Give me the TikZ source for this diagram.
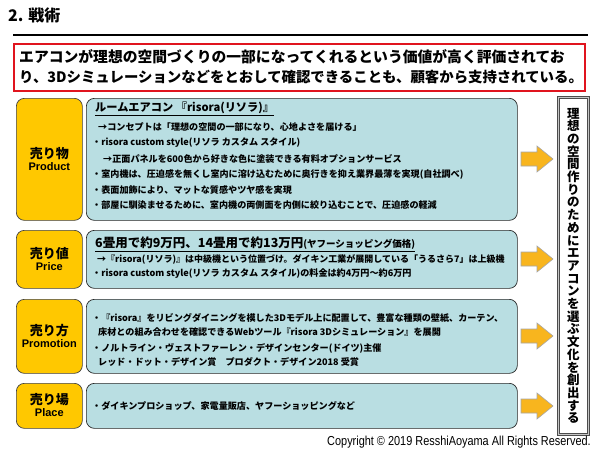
\documentclass[tikz,border=0pt]{standalone}
\usepackage{fontspec}
\usepackage{graphicx}
\setmainfont{Noto Sans CJK JP}
\newfontfamily\latfont{Liberation Sans}
\definecolor{orangefill}{HTML}{FFC800}
\definecolor{bluefill}{HTML}{B9DEE2}
\definecolor{arrowfill}{HTML}{F8B51E}
\definecolor{redline}{HTML}{E0141E}
\tikzset{
  obox/.style={draw=black!75, fill=orangefill, rounded corners=8pt, line width=0.7pt, anchor=north west, inner sep=0pt},
  bbox/.style={draw=black!85, fill=bluefill, rounded corners=8pt, line width=0.7pt, anchor=north west, inner sep=0pt},
  btxt/.style={anchor=west, inner sep=0pt, font=\fontsize{9.1}{10}\selectfont\bfseries},
  btitle/.style={anchor=west, inner sep=0pt, font=\fontsize{11.2}{12}\selectfont\bfseries},
  ojp/.style={inner sep=0pt, font=\fontsize{13}{14}\selectfont\bfseries},
  oen/.style={inner sep=0pt, font=\latfont\fontsize{11}{12}\selectfont\bfseries},
  blockarrow/.pic={\draw[fill=arrowfill, draw=gray!70, line width=0.6pt, line join=miter]
     (0,-7) -- (16,-7) -- (16,-13) -- (32,0) -- (16,13) -- (16,7) -- (0,7) -- cycle;},
  redtxt/.style={anchor=west, inner sep=0pt, font=\fontsize{14.8}{15}\selectfont\bfseries}
}
\begin{document}
\begin{tikzpicture}[x=1pt,y=-1pt]
\useasboundingbox (0,0) rectangle (600,450);
\fill[white] (0,0) rectangle (600,450);
% title
\node[anchor=west, inner sep=0pt, font=\fontsize{16}{17}\selectfont\bfseries] (title) at (8,15) {2. 戦術};
\coordinate (rulel) at (13,35);
\coordinate (ruler) at (588,35);
\draw[line width=2.6pt] (rulel) -- (ruler);
% red box
\node[draw=redline, line width=1.8pt, anchor=north west, minimum width=571pt, minimum height=47pt, inner sep=0pt] (redbox) at (13,43) {};
\node[redtxt] (red1) at (19,57) {エアコンが理想の空間づくりの一部になってくれるという価値が高く評価されてお};
\node[redtxt, font=\fontsize{14.4}{15}\selectfont\bfseries] (red2) at (19,77) {り、3Dシミュレーションなどをとおして確認できることも、顧客から支持されている。};
% row 1
\node[obox, minimum width=66pt, minimum height=122pt] (o1) at (16,98) {};
\node[ojp] (o1a) at ([yshift=6pt]o1.center) {売り物};
\node[oen] (o1b) at ([yshift=-7pt]o1.center) {Product};
\node[bbox, minimum width=431pt, minimum height=122pt] (b1) at (86,98) {};
\node[btitle] (t1) at (95,109) {\underline{ルームエアコン 『risora(リソラ)』}};
\node[btxt] (l11) at (98,127) {→コンセプトは「理想の空間の一部になり、心地よさを届ける」};
\node[btxt] (l12) at (92,143) {・risora custom style(リソラ カスタム スタイル)};
\node[btxt] (l13) at (103,159) {→正面パネルを600色から好きな色に塗装できる有料オプションサービス};
\node[btxt] (l14) at (92,174) {・室内機は、圧迫感を無くし室内に溶け込むために奥行きを抑え業界最薄を実現(自社調べ)};
\node[btxt] (l15) at (92,190) {・表面加飾により、マットな質感やツヤ感を実現};
\node[btxt] (l16) at (92,205) {・部屋に馴染ませるために、室内機の両側面を内側に絞り込むことで、圧迫感の軽減};
\coordinate (a1) at (521,159);
\pic at (a1) {blockarrow};
% row 2
\node[obox, minimum width=66pt, minimum height=58pt] (o2) at (16,230) {};
\node[ojp] (o2a) at ([yshift=6pt]o2.center) {売り値};
\node[oen] (o2b) at ([yshift=-7pt]o2.center) {Price};
\node[bbox, minimum width=431pt, minimum height=58pt] (b2) at (86,230) {};
\node[anchor=west, inner sep=0pt] (t2) at (95,244) {\underline{{\fontsize{12.5}{13}\selectfont\bfseries 6畳用で約9万円、14畳用で約13万円}{\fontsize{9.5}{10}\selectfont\bfseries (ヤフーショッピング価格)}}};
\node[btxt, font=\fontsize{9}{10}\selectfont\bfseries] (l21) at (97,259) {→『risora(リソラ)』は中級機という位置づけ。ダイキン工業が展開している「うるさら7」は上級機};
\node[btxt] (l22) at (92,274) {・risora custom style(リソラ カスタム スタイル)の料金は約4万円～約6万円};
\coordinate (a2) at (521,259);
\pic at (a2) {blockarrow};
% row 3
\node[obox, minimum width=66pt, minimum height=74pt] (o3) at (16,299) {};
\node[ojp] (o3a) at ([yshift=6pt]o3.center) {売り方};
\node[oen] (o3b) at ([yshift=-7pt]o3.center) {Promotion};
\node[bbox, minimum width=431pt, minimum height=74pt] (b3) at (86,299) {};
\node[btxt] (l31) at (92,318) {・『risora』をリビングダイニングを模した3Dモデル上に配置して、豊富な種類の壁紙、カーテン、};
\node[btxt] (l32) at (98,332) {床材との組み合わせを確認できるWebツール『risora 3Dシミュレーション』を展開};
\node[btxt] (l33) at (92,348) {・ノルトライン・ヴェストファーレン・デザインセンター(ドイツ)主催};
\node[btxt] (l34) at (98,362) {レッド・ドット・デザイン賞\quad プロダクト・デザイン2018 受賞};
\coordinate (a3) at (521,336);
\pic at (a3) {blockarrow};
% row 4
\node[obox, minimum width=66pt, minimum height=45pt] (o4) at (16,383) {};
\node[ojp] (o4a) at ([yshift=6pt]o4.center) {売り場};
\node[oen] (o4b) at ([yshift=-7pt]o4.center) {Place};
\node[bbox, minimum width=431pt, minimum height=45pt] (b4) at (86,383) {};
\node[btxt] (l41) at (92,406) {・ダイキンプロショップ、家電量販店、ヤフーショッピングなど};
\coordinate (a4) at (521,406);
\pic at (a4) {blockarrow};
% right box
\node[draw=black!70, line width=0.6pt, double=gray!45, double distance=1.4pt, fill=white, anchor=north west, minimum width=30pt, minimum height=337pt, inner sep=0pt] (rbox) at (558,97) {};
\node[align=center, inner sep=0pt, font=\fontsize{12.5}{12.7}\selectfont\bfseries] (rtxt) at (rbox.center) {理\\想\\の\\空\\間\\作\\り\\の\\た\\め\\に\\エ\\ア\\コ\\ン\\を\\選\\ぶ\\文\\化\\を\\創\\出\\す\\る};
% copyright
\node[anchor=east, inner sep=0pt] (copy) at (591,442) {\scalebox{0.84}[1]{\latfont\fontsize{13}{14}\selectfont Copyright © 2019 ResshiAoyama All Rights Reserved.}};
\end{tikzpicture}
\end{document}
